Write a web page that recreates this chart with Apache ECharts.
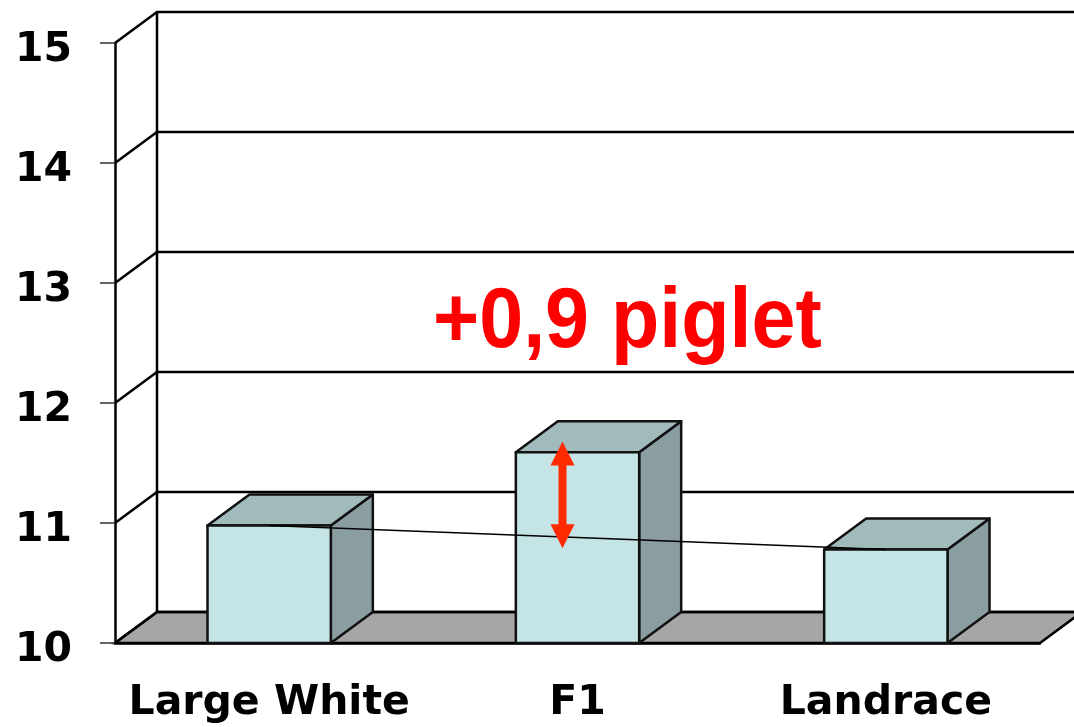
<!DOCTYPE html>
<html lang="en">
<head>
  <meta charset="UTF-8">
  <title>Piglets per litter</title>
  <script src="https://cdn.jsdelivr.net/npm/echarts@6/dist/echarts.min.js"></script>
  <style>
    html, body { margin: 0; padding: 0; background: #fff; }
    #main { width: 1074px; height: 727px; }
  </style>
</head>
<body>
  <div id="main"></div>

  <script>
    // data
    var categories = ['Large White', 'F1', 'Landrace']
    var barValues = [10.98, 11.59, 10.78]
    var lineValues = [10.98, '-', 10.78]   // thin line joins the two pure breeds
    var yTicks = [10, 11, 12, 13, 14, 15]
    var arrowSpan = [10.79, 11.68]          // red double arrow on F1
    var noteText = '+0,9 piglet'

    // fake 3D depth (pixels)
    var DX = 42, DY = -31

    var mChart = echarts.init(document.getElementById('main'))

    // back wall, left wall, floor and grid lines
    function renderWalls(params, api) {
      var cs = params.coordSys
      var left = cs.x, right = cs.x + cs.width
      var far = right + DX + 40
      var y0 = api.coord([0, yTicks[0]])[1]
      var yTop = api.coord([0, yTicks[yTicks.length - 1]])[1]
      var kids = []
      // floor
      kids.push({
        type: 'polygon',
        shape: { points: [[left, y0], [right, y0], [right + DX, y0 + DY], [left + DX, y0 + DY]] },
        style: { fill: '#a6a6a6', stroke: '#000', lineWidth: 2.5 }
      })
      // back wall vertical edge
      kids.push({
        type: 'line',
        shape: { x1: left + DX, y1: yTop + DY, x2: left + DX, y2: y0 + DY },
        style: { stroke: '#000', lineWidth: 2.5 }
      })
      yTicks.forEach(function (v) {
        var y = api.coord([0, v])[1]
        kids.push({
          type: 'polyline',
          shape: { points: [[left, y], [left + DX, y + DY], [far, y + DY]] },
          style: { stroke: '#000', lineWidth: 2.5, fill: null }
        })
      })
      return { type: 'group', children: kids }
    }

    function renderBar(params, api) {
      var base = api.coord([api.value(0), yTicks[0]])
      var top = api.coord([api.value(0), api.value(1)])
      var bw = api.size([1, 0])[0] * 0.4
      var x1 = base[0] - bw / 2, x2 = base[0] + bw / 2
      var yb = base[1], yt = top[1]
      var edge = { stroke: '#111', lineWidth: 2.5, lineJoin: 'round' }
      return {
        type: 'group',
        children: [
          {
            type: 'polygon',
            shape: { points: [[x2, yb], [x2 + DX, yb + DY], [x2 + DX, yt + DY], [x2, yt]] },
            style: Object.assign({ fill: '#8a9ea2' }, edge)
          },
          {
            type: 'polygon',
            shape: { points: [[x1, yt], [x1 + DX, yt + DY], [x2 + DX, yt + DY], [x2, yt]] },
            style: Object.assign({ fill: '#a1bbbc' }, edge)
          },
          {
            type: 'rect',
            shape: { x: x1, y: yt, width: bw, height: yb - yt },
            style: Object.assign({ fill: '#c4e4e5' }, edge)
          }
        ]
      }
    }

    function renderArrow(params, api) {
      var p1 = api.coord([api.value(0), api.value(1)])
      var p2 = api.coord([api.value(0), api.value(2)])
      var x = p1[0] - 15
      var yLow = p1[1], yHigh = p2[1]
      var sw = 4, hw = 12, hl = 24
      return {
        type: 'polygon',
        shape: {
          points: [
            [x, yHigh], [x + hw, yHigh + hl], [x + sw, yHigh + hl],
            [x + sw, yLow - hl], [x + hw, yLow - hl], [x, yLow],
            [x - hw, yLow - hl], [x - sw, yLow - hl], [x - sw, yHigh + hl],
            [x - hw, yHigh + hl]
          ]
        },
        style: { fill: '#ff2a00' }
      }
    }

    var labelFont = { fontFamily: 'DejaVu Sans', fontWeight: 'bold', fontSize: 41, color: '#000' }

    var option = {
      animation: false,
      grid: { left: 115, right: 34, top: 43, bottom: 84 },
      xAxis: {
        type: 'category',
        data: categories,
        axisLine: { lineStyle: { color: '#000', width: 2.5 } },
        axisTick: { length: 15, lineStyle: { color: '#333', width: 1.5 } },
        axisLabel: Object.assign({ margin: 40, interval: 0 }, labelFont),
        z: 1
      },
      yAxis: {
        type: 'value',
        min: 10,
        max: 15,
        interval: 1,
        splitLine: { show: false },
        axisLine: { show: true, lineStyle: { color: '#000', width: 2.5 } },
        axisTick: { show: true, length: 15, lineStyle: { color: '#333', width: 1.5 } },
        axisLabel: Object.assign({ margin: 43, verticalAlign: 'top', lineHeight: 14 }, labelFont),
        z: 1
      },
      graphic: [
        {
          type: 'text',
          x: 433,
          y: 324,
          scaleX: 0.93,
          z: 100,
          style: {
            text: noteText,
            fill: '#ff0000',
            fontFamily: 'Liberation Sans',
            fontWeight: 'bold',
            fontSize: 85,
            textAlign: 'left',
            textVerticalAlign: 'middle'
          }
        }
      ],
      series: [
        {
          type: 'custom',
          renderItem: renderWalls,
          data: [[0, 10]],
          silent: true,
          z: 0
        },
        {
          type: 'custom',
          renderItem: renderBar,
          data: barValues.map(function (v, i) { return [i, v] }),
          z: 2
        },
        {
          type: 'line',
          data: lineValues,
          connectNulls: true,
          showSymbol: false,
          symbol: 'none',
          lineStyle: { color: '#000', width: 1.5 },
          z: 3
        },
        {
          type: 'custom',
          renderItem: renderArrow,
          data: [[1, arrowSpan[0], arrowSpan[1]]],
          z: 4
        }
      ]
    }

    mChart.setOption(option)
  </script>
</body>
</html>
